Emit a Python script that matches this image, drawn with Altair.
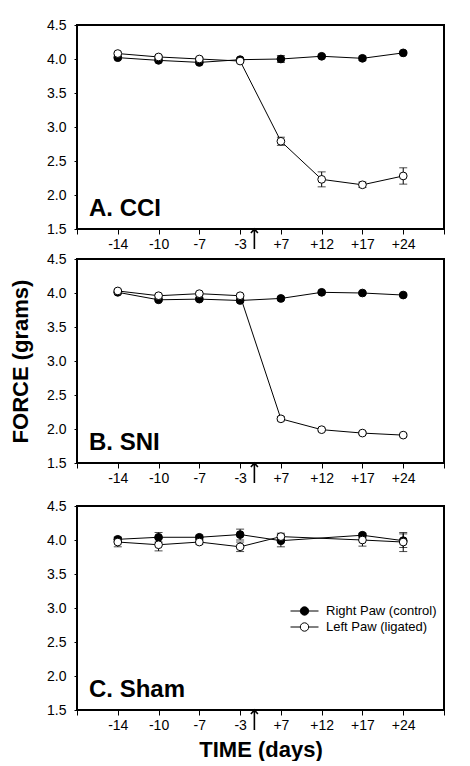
import altair as alt
import pandas as pd

days = ["-14", "-10", "-7", "-3", "+7", "+12", "+17", "+24"]
series_names = ["Right Paw (control)", "Left Paw (ligated)"]
force_ticks = [1.5, 2.0, 2.5, 3.0, 3.5, 4.0, 4.5]

a_right = [4.02, 3.98, 3.95, 3.99, 4.00, 4.04, 4.01, 4.09]
a_right_err = [0.02, 0.02, 0.02, 0.02, 0.05, 0.02, 0.03, 0.02]
a_left = [4.08, 4.03, 4.00, 3.97, 2.79, 2.23, 2.15, 2.28]
a_left_err = [0.02, 0.02, 0.02, 0.02, 0.06, 0.11, 0.04, 0.12]

b_right = [4.01, 3.90, 3.91, 3.89, 3.92, 4.01, 4.00, 3.97]
b_right_err = [0.02, 0.02, 0.02, 0.02, 0.02, 0.02, 0.02, 0.02]
b_left = [4.03, 3.96, 3.99, 3.96, 2.15, 1.99, 1.94, 1.91]
b_left_err = [0.02, 0.02, 0.02, 0.02, 0.03, 0.02, 0.02, 0.02]

c_right = [4.01, 4.04, 4.04, 4.08, 3.99, None, 4.07, 3.99]
c_right_err = [0.03, 0.07, 0.03, 0.08, 0.09, None, 0.03, 0.10]
c_left = [3.97, 3.93, 3.97, 3.90, 4.05, None, 4.00, 3.97]
c_left_err = [0.07, 0.09, 0.03, 0.07, 0.05, None, 0.09, 0.14]

panels = [
    ("A. CCI", a_right, a_right_err, a_left, a_left_err),
    ("B. SNI", b_right, b_right_err, b_left, b_left_err),
    ("C. Sham", c_right, c_right_err, c_left, c_left_err),
]

# surgery marker sits between day -3 and day +7
surgery_pos = 4.35

FONT = "Liberation Sans"
W, H = 367, 204
label_expr = "datum.value >= 1 && datum.value <= %d ? %s[datum.value - 1] : ''" % (
    len(days), "[" + ",".join("'%s'" % d for d in days) + "]")
legend_symbol = ("M-1,0L-0.3,0M0.3,0L1,0M-0.3,0"
                 "A0.3,0.3,0,1,0,0.3,0A0.3,0.3,0,1,0,-0.3,0Z")
arrow_symbol = "M0,-1L0,1M-0.35,-0.6L0,-1L0.35,-0.6"


def build(title, r, re_, l, le, show_legend, ytitle, xtitle):
    rows = []
    for name, vals, errs in [(series_names[0], r, re_), (series_names[1], l, le)]:
        for i, (v, e) in enumerate(zip(vals, errs)):
            if v is None:
                continue
            rows.append({"idx": i + 1, "day": days[i], "paw": name, "force": v,
                         "lo": v - e, "hi": v + e, "order": series_names.index(name)})
    df = pd.DataFrame(rows)
    base = alt.Chart(df)
    xaxis = alt.Axis(values=list(range(0, len(days) + 2)), labelExpr=label_expr,
                     title=xtitle if xtitle else None, grid=False, domain=False,
                     tickColor="black", tickSize=5, labelFont=FONT, labelFontSize=14,
                     labelColor="black", labelPadding=3, labelOverlap=False,
                     titleFont=FONT, titleFontSize=22, titleFontWeight="bold",
                     titleColor="black", titlePadding=7)
    yaxis = alt.Axis(values=force_ticks, labelExpr="format(datum.value, '.1f')",
                     title=ytitle if ytitle else None, grid=False, domain=False,
                     tickColor="black", tickSize=3, labelFont=FONT, labelFontSize=14,
                     labelColor="black", labelPadding=8, labelOverlap=False,
                     labelFlush=False,
                     titleFont=FONT, titleFontSize=22, titleFontWeight="bold",
                     titleColor="black", titlePadding=14)
    xscale = alt.Scale(domain=[0, len(days) + 1], nice=False, zero=False)
    yscale = alt.Scale(domain=[1.5, 4.5], nice=False, zero=False)
    if show_legend:
        legend = alt.Legend(title=None, orient="none", legendX=213, legendY=97,
                            symbolType=legend_symbol, symbolSize=784,
                            symbolStrokeColor="black", symbolStrokeWidth=1,
                            labelFont=FONT, labelFontSize=13, labelColor="black",
                            clipHeight=16, rowPadding=0, labelOffset=7)
    else:
        legend = None
    fill = alt.Fill("paw:N", scale=alt.Scale(domain=series_names, range=["black", "white"]),
                    legend=legend)

    bars = base.mark_rule(color="black", strokeWidth=1).encode(
        x=alt.X("idx:Q", scale=xscale, axis=xaxis),
        y=alt.Y("lo:Q", scale=yscale, axis=yaxis), y2="hi:Q")
    cap_hi = base.mark_tick(color="black", thickness=1, size=8, orient="horizontal").encode(
        x=alt.X("idx:Q", scale=xscale, axis=xaxis), y=alt.Y("hi:Q", scale=yscale, axis=yaxis))
    cap_lo = base.mark_tick(color="black", thickness=1, size=8, orient="horizontal").encode(
        x=alt.X("idx:Q", scale=xscale, axis=xaxis), y=alt.Y("lo:Q", scale=yscale, axis=yaxis))
    lines = base.mark_line(color="black", strokeWidth=1).encode(
        x=alt.X("idx:Q", scale=xscale, axis=xaxis),
        y=alt.Y("force:Q", scale=yscale, axis=yaxis), detail="paw:N")
    points = base.mark_point(shape="circle", size=60, stroke="black", strokeWidth=1,
                             opacity=1, filled=True).encode(
        x=alt.X("idx:Q", scale=xscale, axis=xaxis),
        y=alt.Y("force:Q", scale=yscale, axis=yaxis), fill=fill, order="order:Q")
    label = alt.Chart(pd.DataFrame({"t": [title]})).mark_text(
        font=FONT, fontSize=24, fontWeight="bold", color="black", align="left",
        baseline="alphabetic").encode(text="t:N", x=alt.value(12), y=alt.value(H - 13))
    arrow = alt.Chart(pd.DataFrame({"idx": [surgery_pos]})).mark_point(
        shape=arrow_symbol, size=400, filled=False, stroke="black", strokeWidth=1.6,
        opacity=1).encode(x=alt.X("idx:Q", scale=xscale, axis=xaxis), y=alt.value(H + 10))
    return alt.layer(bars, cap_hi, cap_lo, lines, points, label, arrow).properties(
        width=W, height=H)


charts = []
for k, (t, r, re_, l, le) in enumerate(panels):
    charts.append(build(t, r, re_, l, le, show_legend=(k == 2),
                        ytitle="FORCE (grams)" if k == 1 else None,
                        xtitle="TIME (days)" if k == 2 else None))

top = alt.vconcat(charts[0], charts[1], spacing=-3)
chart = alt.vconcat(top, charts[2], spacing=10).resolve_scale(fill="independent").properties(
    padding={"top": 9, "left": 0, "right": 5, "bottom": 0}
).configure(background="white", view=alt.ViewConfig(stroke="black", strokeWidth=2),
            axis=alt.AxisConfig(labelOverlap=False))

chart.save("out.html", embed_options={"renderer": "svg", "actions": False})
